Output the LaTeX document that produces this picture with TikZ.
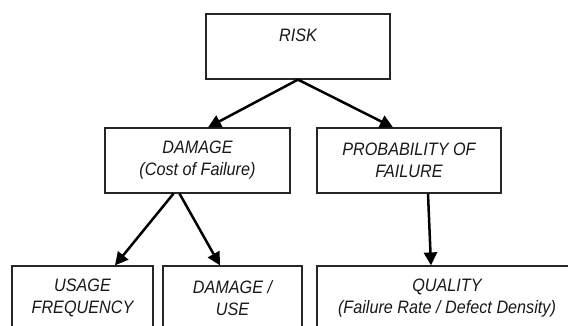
\documentclass[tikz,border=0pt]{standalone}
\usepackage{fontspec}
\usetikzlibrary{arrows.meta}
\newfontfamily\diagfont{Liberation Sans}[FakeStretch=0.9]
\begin{document}
\begin{tikzpicture}[x=1pt,y=-1pt,
  box/.style={draw=black!85, line width=1.2pt, inner sep=0pt, align=center,
    text=black!90, font=\diagfont\itshape\fontsize{18}{22}\selectfont},
  arr/.style={line width=2.5pt, -{Triangle[length=13pt,width=13pt]}}]
\clip (0,0) rectangle (568,325);
\fill[white] (0,0) rectangle (568,325);
\node[box, minimum width=184pt, text height=27.6pt, text depth=37.4pt] (risk) at (298,46.5) {RISK};
\node[box, minimum width=185pt, minimum height=65pt] (damage) at (197.5,160.5) {DAMAGE\\(Cost of Failure)};
\node[box, minimum width=184pt, minimum height=65pt] (prob) at (409,160.5) {PROBABILITY OF\\FAILURE};
\node[box, minimum width=141pt, minimum height=64pt] (usage) at (82.5,298) {USAGE\\FREQUENCY};
\node[box, minimum width=139pt, minimum height=64pt] (dmguse) at (232.5,298) {DAMAGE /\\USE};
\node[box, minimum width=260pt, minimum height=64pt] (quality) at (447,298) {QUALITY\\(Failure Rate / Defect Density)};
\draw[arr] (risk.south) -- ([xshift=10.5pt]damage.north);
\draw[arr] (risk.south) -- ([xshift=-16pt]prob.north);
\draw[arr] ([xshift=-24pt]damage.south) -- ([xshift=32.5pt]usage.north);
\draw[arr] ([xshift=-18pt]damage.south) -- ([xshift=-12.5pt]dmguse.north);
\draw[arr] ([xshift=19pt]prob.south) -- ([xshift=-16pt]quality.north);
\end{tikzpicture}
\end{document}
